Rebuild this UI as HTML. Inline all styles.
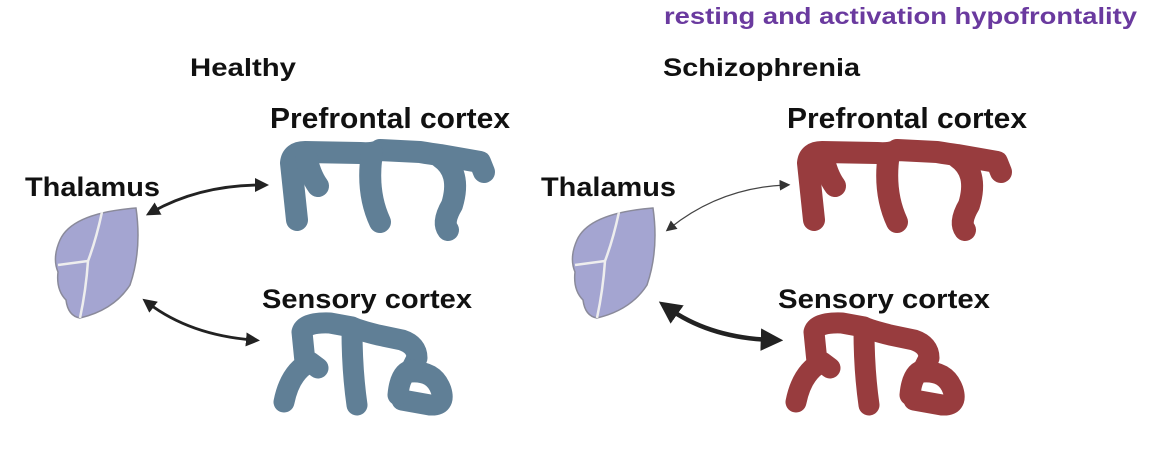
<!DOCTYPE html>
<html><head><meta charset="utf-8"><style>
html,body{margin:0;padding:0;background:#fff;width:1164px;height:450px;overflow:hidden}
svg text{font-family:"Liberation Sans",Arial,sans-serif;font-weight:bold}
</style></head><body>
<svg width="1164" height="450" viewBox="0 0 1164 450">
<defs>
<marker id="ah" viewBox="0 0 10 10" refX="5" refY="5" markerWidth="5" markerHeight="5" orient="auto-start-reverse"><path d="M0,0 L10,5 L0,10 z" fill="#222"/></marker>
<marker id="ahs" viewBox="0 0 10 10" refX="5" refY="5" markerWidth="9" markerHeight="9" orient="auto-start-reverse"><path d="M0,0 L10,5 L0,10 z" fill="#333"/></marker>
<marker id="ahb" viewBox="0 0 10 10" refX="5" refY="5" markerWidth="5" markerHeight="5" orient="auto-start-reverse"><path d="M0,0 L10,5 L0,10 z" fill="#222"/></marker>
<g id="thal">
<path d="M60,240 Q72,213 136,208 Q142,250 130,285 Q114,310 80,318 Q68,316 66,300 Q56,290 58,272 Q52,258 60,240 Z" fill="#a4a5d1" stroke="#8a8a9a" stroke-width="1.5"/>
<path d="M102,212 Q96,240 88,261 L58,265 M88,261 Q86,290 80,318" fill="none" stroke="#eee" stroke-width="2.5"/>
</g>
<g id="pfc" fill="none" stroke-linecap="round" stroke-linejoin="round" stroke-width="22">
<path d="M297,220 L291,163 Q292,152 305,152 L360,153 Q375,154 380,150 L420,152 Q432,154 440,155 L480,162 L484,172"/>
<path d="M306,156 Q310,175 318,186"/>
<path d="M372,153 Q366,192 380,222"/>
<path d="M440,157 Q462,172 452,205 Q442,222 448,230"/>
</g>
<g id="sens" fill="none" stroke-linecap="round" stroke-linejoin="round" stroke-width="21">
<path d="M284,402 Q290,372 310,362 L318,368 M305,362 L302,332 Q305,322 330,323 L352,327 Q358,330 378,335 L402,340 Q417,345 417,358 L410,372 Q434,370 441,390 Q446,406 430,405 L402,400"/>
<path d="M352,330 Q352,370 357,405"/>
<path d="M412,370 Q400,372 398,395"/>
</g>
</defs>

<text x="664" y="24" font-size="23" fill="#6a3a9f" textLength="473" lengthAdjust="spacingAndGlyphs">resting and activation hypofrontality</text>

<g>
<text x="190" y="76" font-size="25" fill="#111" textLength="106" lengthAdjust="spacingAndGlyphs">Healthy</text>
<text x="270" y="128" font-size="29" fill="#111" textLength="240" lengthAdjust="spacingAndGlyphs">Prefrontal cortex</text>
<text x="25" y="196" font-size="27" fill="#111" textLength="135" lengthAdjust="spacingAndGlyphs">Thalamus</text>
<text x="262" y="308" font-size="27" fill="#111" textLength="210" lengthAdjust="spacingAndGlyphs">Sensory cortex</text>
<use href="#thal"/>
<use href="#pfc" stroke="#607f96"/>
<use href="#sens" stroke="#607f96"/>
<path d="M152,212 Q200,185 262,185" fill="none" stroke="#222" stroke-width="2.8" marker-start="url(#ah)" marker-end="url(#ah)"/>
<path d="M148,303 Q190,335 253,340" fill="none" stroke="#222" stroke-width="2.8" marker-start="url(#ah)" marker-end="url(#ah)"/>
</g>

<g>
<text x="663" y="76" font-size="25" fill="#111" textLength="197" lengthAdjust="spacingAndGlyphs">Schizophrenia</text>
<text x="787" y="128" font-size="29" fill="#111" textLength="240" lengthAdjust="spacingAndGlyphs">Prefrontal cortex</text>
<text x="541" y="196" font-size="27" fill="#111" textLength="135" lengthAdjust="spacingAndGlyphs">Thalamus</text>
<text x="778" y="308" font-size="27" fill="#111" textLength="212" lengthAdjust="spacingAndGlyphs">Sensory cortex</text>
<use href="#thal" transform="translate(517,0)"/>
<use href="#pfc" transform="translate(517,0)" stroke="#983c3e"/>
<use href="#sens" transform="translate(512,0)" stroke="#983c3e"/>
<path d="M670,228 Q720,188 785,185" fill="none" stroke="#444" stroke-width="1.2" marker-start="url(#ahs)" marker-end="url(#ahs)"/>
<path d="M668,308 Q710,338 772,340" fill="none" stroke="#222" stroke-width="4.5" marker-start="url(#ahb)" marker-end="url(#ahb)"/>
</g>
</svg>
</body></html>
